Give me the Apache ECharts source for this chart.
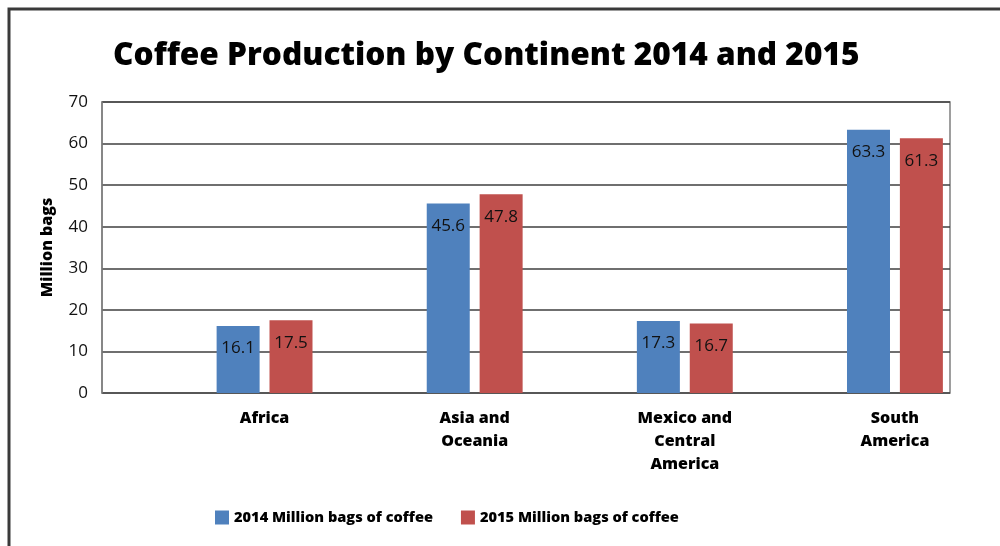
<!DOCTYPE html>
<html>
<head>
<meta charset="utf-8">
<style>
  html, body { margin: 0; padding: 0; background: #fff; }
  #chart { width: 1000px; height: 546px; }
</style>
<script src="https://cdn.jsdelivr.net/npm/echarts@6/dist/echarts.min.js"></script>
</head>
<body>
<div id="chart"></div>
<script>
// Coffee production by continent, million bags
const categories = ['Africa', 'Asia and\nOceania', 'Mexico and\nCentral\nAmerica', 'South\nAmerica'];
const seriesNames = ['2014 Million bags of coffee', '2015 Million bags of coffee'];
const values2014 = [16.1, 45.6, 17.3, 63.3];
const values2015 = [17.5, 47.8, 16.7, 61.3];
const yTicks = [0, 10, 20, 30, 40, 50, 60, 70];

const colors = ['#4F81BD', '#C0504D'];
const baseFont = '"Open Sans", "Noto Sans", sans-serif';
const heavy = 800;
const yMin = yTicks[0];
const yMax = yTicks[yTicks.length - 1];
const yStep = yTicks[1] - yTicks[0];

const chart = echarts.init(document.getElementById('chart'), null, { renderer: 'canvas' });

const barLabel = {
  show: true,
  position: 'insideTop',
  distance: 14,
  color: '#111',
  fontFamily: baseFont,
  fontSize: 17,
  formatter: p => p.value.toFixed(1)
};

chart.setOption({
  animation: false,
  backgroundColor: '#ffffff',
  title: {
    text: 'Coffee Production by Continent 2014 and 2015',
    left: 108,
    top: 35,
    textStyle: {
      fontFamily: baseFont,
      fontWeight: heavy,
      fontSize: 31.6,
      color: '#000'
    }
  },
  legend: {
    data: seriesNames,
    bottom: 16,
    left: 210,
    itemWidth: 14,
    itemHeight: 14,
    itemGap: 28,
    icon: 'rect',
    textStyle: {
      fontFamily: baseFont,
      fontWeight: heavy,
      fontSize: 14.6,
      color: '#000'
    }
  },
  grid: [
    // frame grid: y axis, gridlines, plot border
    { left: 102, top: 102, width: 848, height: 291, show: true, borderColor: '#7f7f7f', borderWidth: 1.5, containLabel: false },
    // bar grid: category bands
    { left: 159.5, top: 102, width: 844.5, height: 291, containLabel: false }
  ],
  xAxis: [
    { gridIndex: 0, type: 'value', min: 0, max: 1, show: false },
    {
      gridIndex: 1,
      type: 'category',
      data: categories,
      axisLine: { show: false },
      axisTick: { show: false },
      axisLabel: {
        margin: 14,
        interval: 0,
        color: '#000',
        fontFamily: baseFont,
        fontWeight: heavy,
        fontSize: 16,
        lineHeight: 23
      }
    }
  ],
  yAxis: [
    {
      gridIndex: 0,
      type: 'value',
      min: yMin,
      max: yMax,
      interval: yStep,
      name: 'Million bags',
      nameLocation: 'middle',
      nameGap: 47,
      nameRotate: 90,
      nameTextStyle: {
        fontFamily: baseFont,
        fontWeight: heavy,
        fontSize: 16,
        color: '#000'
      },
      axisLine: { show: true, lineStyle: { color: '#7f7f7f', width: 1.5 } },
      axisTick: { show: false },
      axisLabel: {
        margin: 14,
        color: '#111',
        fontFamily: baseFont,
        fontSize: 17
      },
      splitLine: { show: true, lineStyle: { color: '#3f3f3f', width: 1.5 } }
    },
    { gridIndex: 1, type: 'value', min: yMin, max: yMax, interval: yStep, show: false }
  ],
  series: [
    {
      name: seriesNames[0],
      type: 'bar',
      xAxisIndex: 1,
      yAxisIndex: 1,
      data: values2014,
      barWidth: 43,
      barGap: '23%',
      itemStyle: { color: colors[0] },
      label: barLabel
    },
    {
      name: seriesNames[1],
      type: 'bar',
      xAxisIndex: 1,
      yAxisIndex: 1,
      data: values2015,
      barWidth: 43,
      barGap: '23%',
      itemStyle: { color: colors[1] },
      label: barLabel
    }
  ],
  graphic: [
    // outer frame: left and top edges
    {
      type: 'polyline',
      shape: { points: [[9, 546], [9, 9], [1000, 9]] },
      style: { stroke: '#3a3a3a', lineWidth: 3, fill: null },
      silent: true
    }
  ]
});
</script>
</body>
</html>
